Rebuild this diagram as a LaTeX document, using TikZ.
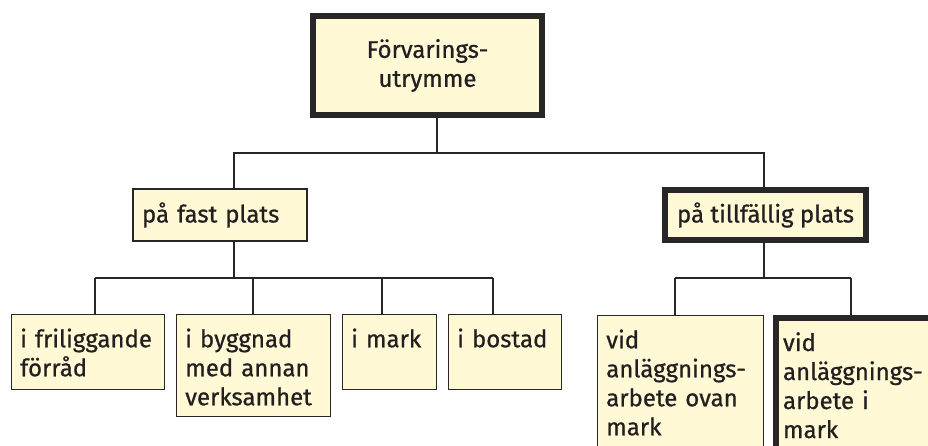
\documentclass[tikz,border=0pt]{standalone}
\usepackage{fontspec}
\setmainfont{Fira Sans}[FakeBold=0.8]
\definecolor{boxfill}{RGB}{255,249,214}
\definecolor{boxline}{RGB}{40,38,38}
\definecolor{txt}{RGB}{35,31,32}
\tikzset{
  box/.style={draw=boxline, fill=boxfill, line width=1.3pt, text=txt,
    font=\fontsize{24}{29}\selectfont},
  leaf/.style={box, anchor=north west, align=left, inner xsep=9pt, inner ysep=0pt,
    text height=33pt},
  bold/.style={line width=6pt},
  conn/.style={draw=boxline, line width=1.2pt}
}
\begin{document}
\begin{tikzpicture}[x=1pt,y=-1pt]
        \useasboundingbox (0,0) rectangle (928,446);
        \clip (0,0) rectangle (928,446);

        % junctions
        \coordinate (j0) at (437,153);
        \coordinate (j1) at (234,278);
        \coordinate (j2) at (764,278);
        \coordinate (k1) at (95,278);
        \coordinate (k2) at (253,278);
        \coordinate (k3) at (382,278);
        \coordinate (k4) at (493,278);
        \coordinate (k5) at (675,278);
        \coordinate (k6) at (851,278);

        \begin{scope}[every node/.style={box}]
          \node[bold, align=center, minimum width=229, minimum height=99]
            (top) at (427.5,65.5) {Förvarings-\\utrymme};
          \node[align=left, text width=156, inner xsep=9pt, minimum height=52]
            (fast) at (220,215) {på fast plats};
          \node[bold, align=center, minimum width=201, minimum height=50]
            (tillf) at (765.5,215) {på tillfällig plats};
        \end{scope}

        \node[leaf, text width=135, text depth=42pt] (b1) at (10.6,313.6) {i friliggande\\förråd};
        \node[leaf, text width=136, text depth=69pt] (b2) at (175.6,313.6) {i byggnad\\med annan\\verksamhet};
        \node[leaf, text width=76, text depth=42pt] (b3) at (341.6,313.6) {i mark};
        \node[leaf, text width=95, text depth=42pt] (b4) at (447.6,313.6) {i bostad};
        \node[leaf, text width=148, text depth=123pt] (b5) at (596.6,314.6) {vid\\anläggnings-\\arbete ovan\\mark};
        \node[leaf, bold, inner xsep=7pt, text width=180, text depth=123pt, text height=33pt] (b6) at (773,315) {vid\\anläggnings-\\arbete i\\mark};

        \draw[conn] (top.south -| j0) -- (j0);
        \draw[conn] (fast.north -| j1) |- (j0) -| (tillf.north -| j2);
        \draw[conn] (fast.south -| j1) -- (j1);
        \draw[conn] (tillf.south -| j2) -- (j2);
        \draw[conn] (k1) -- (k4);
        \draw[conn] (k5) -- (k6);
        \foreach \k/\b in {k1/b1,k2/b2,k3/b3,k4/b4,k5/b5,k6/b6}
          \draw[conn] (\k) -- (\b.north -| \k);

      \end{tikzpicture}
\end{document}
